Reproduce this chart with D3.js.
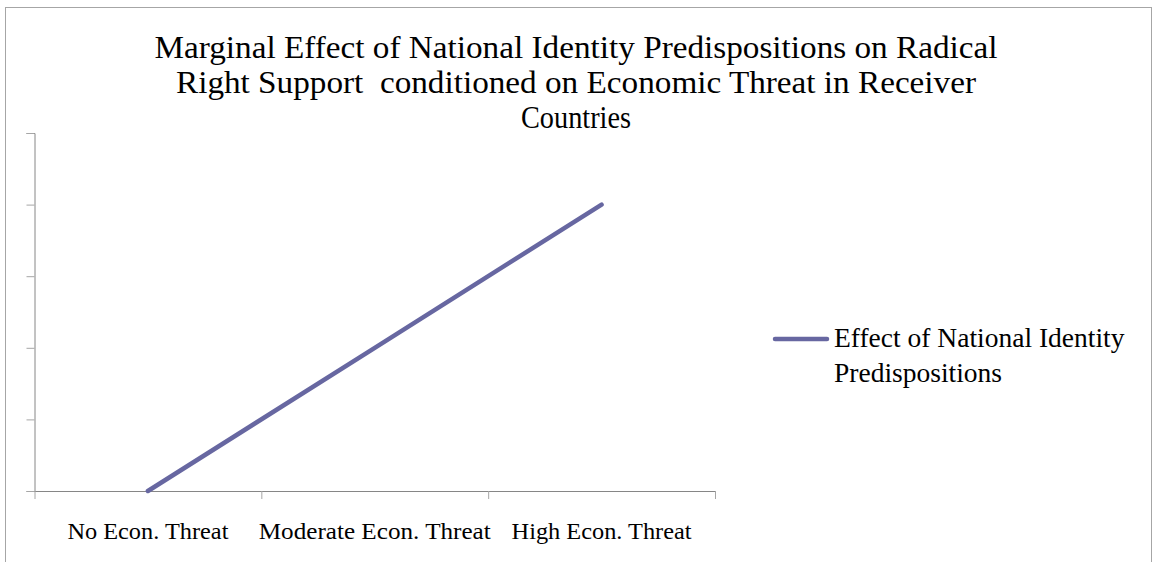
<!DOCTYPE html>
<html><head><meta charset="utf-8">
<script src="https://cdn.jsdelivr.net/npm/d3@7"></script>
<style>body{margin:0;background:#fff}svg{display:block}text{font-family:"Liberation Serif","DejaVu Serif",serif;fill:#000}</style>
</head><body>
<script>
const categories = ["No Econ. Threat", "Moderate Econ. Threat", "High Econ. Threat"];
const values = [0, 2, 4];
const yTicks = [0, 1, 2, 3, 4, 5];
const titleLines = ["Marginal Effect of National Identity Predispositions on Radical", "Right Support  conditioned on Economic Threat in Receiver", "Countries"];
const seriesName = ["Effect of National Identity", "Predispositions"];

(function () {
const W = 1157, H = 562;
const svg = d3.select("body").append("svg").attr("width", W).attr("height", H);
svg.append("rect").attr("x", 5.5).attr("y", 7.5).attr("width", 1146).attr("height", 620)
  .attr("fill", "#fff").attr("stroke", "#a6a6a6").attr("stroke-width", 1);

const pL = 34.5, pR = 715, pT = 133, pB = 491;
const x = d3.scaleBand().domain(categories).range([pL, pR]).paddingInner(0).paddingOuter(0);
const y = d3.scaleLinear().domain([0, 5]).range([pB, pT]);

// y axis
const ya = svg.append("g").attr("transform", `translate(${pL},0)`)
  .call(d3.axisLeft(y).tickValues(yTicks).tickSize(8).tickFormat(""));
ya.select(".domain").attr("stroke", "#868686");
ya.selectAll(".tick line").attr("stroke", "#a6a6a6");

// x axis with boundary ticks
const bx = d3.scaleLinear().domain([0, categories.length]).range([pL, pR]);
const xa = svg.append("g").attr("transform", `translate(0,${pB})`)
  .call(d3.axisBottom(bx).tickValues(d3.range(categories.length + 1)).tickSize(8).tickFormat("").tickSizeOuter(0));
xa.select(".domain").attr("stroke", "#868686");
xa.selectAll(".tick line").attr("stroke", "#a6a6a6");

const catWidths = [161, 232, 180];
svg.append("g").selectAll("text").data(categories).join("text")
  .attr("x", d => x(d) + x.bandwidth() / 2).attr("y", 538.5)
  .attr("text-anchor", "middle").attr("font-size", 22.5)
  .attr("textLength", (d, i) => catWidths[i]).attr("lengthAdjust", "spacingAndGlyphs")
  .text(d => d);

// line
const line = d3.line().x((d, i) => x(categories[i]) + x.bandwidth() / 2).y(d => y(d));
svg.append("path").datum(values).attr("d", line).attr("fill", "none")
  .attr("stroke", "#6767a1").attr("stroke-width", 4.5).attr("stroke-linecap", "round");

// title
const titleWidths = [843, 800, 110];
svg.append("g").selectAll("text").data(titleLines).join("text")
  .attr("x", 576).attr("y", (d, i) => 58.3 + i * 35)
  .attr("text-anchor", "middle").attr("font-size", 32)
  .style("white-space", "pre")
  .attr("textLength", (d, i) => titleWidths[i]).attr("lengthAdjust", "spacingAndGlyphs")
  .text(d => d);

// legend
svg.append("line").attr("x1", 775).attr("x2", 827).attr("y1", 339).attr("y2", 339)
  .attr("stroke", "#6767a1").attr("stroke-width", 4.5).attr("stroke-linecap", "round");
svg.append("g").selectAll("text").data(seriesName).join("text")
  .attr("x", 834).attr("y", (d, i) => 346.7 + i * 35).attr("font-size", 27.5).text(d => d);
})();
</script>
</body></html>
